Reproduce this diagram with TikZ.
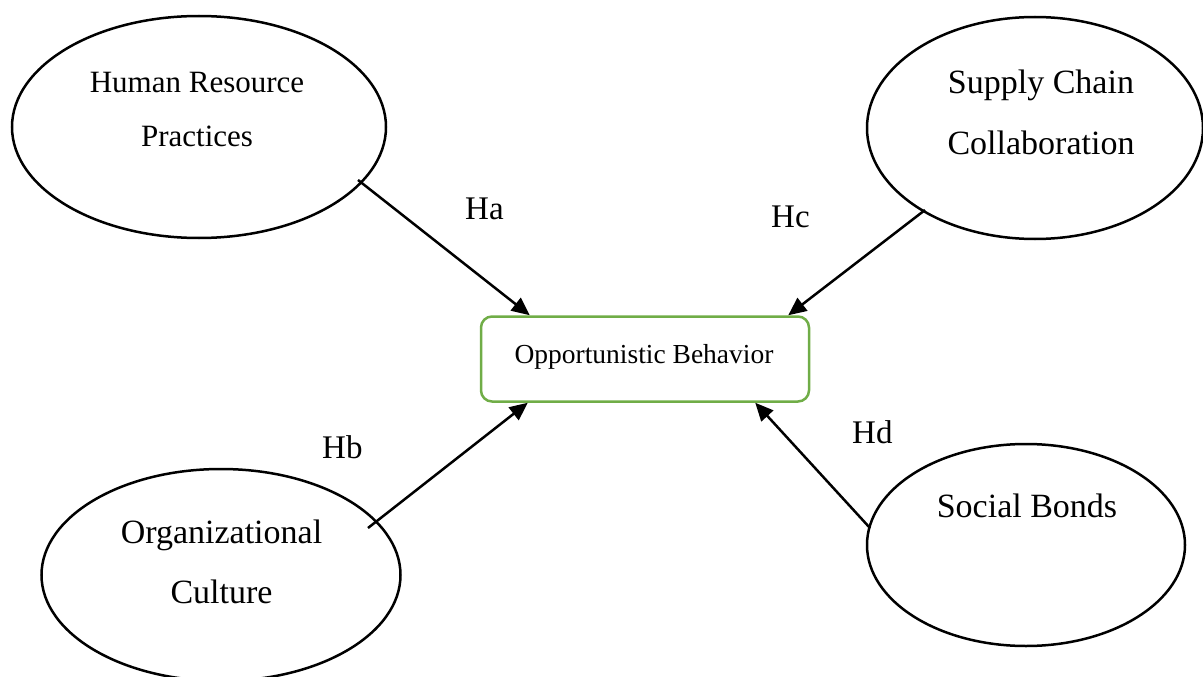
\documentclass[tikz,border=0pt]{standalone}
\usepackage{fontspec}
\setmainfont{Liberation Serif}
\usetikzlibrary{shapes.geometric,arrows.meta,calc}
\definecolor{boxgreen}{HTML}{70AD47}
\tikzset{
  construct/.style={draw=black, line width=2.5pt, ellipse, inner sep=0pt},
  ctext/.style={align=center, inner sep=0pt},
  outcome/.style={draw=boxgreen, line width=2.5pt, rounded corners=11pt,
    minimum width=328pt, minimum height=85pt, inner sep=0pt},
  hyp/.style={inner sep=0pt, anchor=base west, font=\fontsize{33}{36}\selectfont},
  path/.style={line width=2.5pt, -{Triangle[length=18pt,width=16pt]}}
}
\begin{document}
\begin{tikzpicture}[x=1pt,y=-1pt]
  \useasboundingbox (0,0) rectangle (1203,677);

  % latent constructs
  \node[construct, minimum width=374pt, minimum height=222pt] (hr) at (199,127) {};
  \node[construct, minimum width=336pt, minimum height=222pt] (scc) at (1035,128) {};
  \node[construct, minimum width=359pt, minimum height=212pt] (oc) at (221,575) {};
  \node[construct, minimum width=318pt, minimum height=202pt] (sb) at (1026,545) {};

  % construct labels
  \node[ctext, font=\fontsize{31}{54}\selectfont] (hrt) at (197,110) {Human Resource\\Practices};
  \node[ctext, font=\fontsize{34}{61}\selectfont] (scct) at (1041,112) {Supply Chain\\Collaboration};
  \node[ctext, font=\fontsize{34}{60}\selectfont] (oct) at (221.5,562) {Organizational\\Culture};
  \node[ctext, anchor=base, font=\fontsize{34}{40}\selectfont] (sbt) at (1027,517) {Social Bonds};

  % dependent variable
  \node[outcome] (ob) at (645,359) {};
  \node[inner sep=0pt, anchor=base, font=\fontsize{27.5}{32}\selectfont] (obt) at (644,363) {Opportunistic Behavior};

  % hypothesised paths, each leaving its construct near the rim
  \draw[path] ($(hr.center)+(159,53)$) -- ($(ob.north west)+(50,0)$);
  \draw[path] ($(scc.center)+(-110,82)$) -- ($(ob.north east)+(-22,0)$);
  \draw[path] ($(oc.center)+(147,-47)$) -- ($(ob.south west)+(48,0)$);
  \draw[path] ($(sb.center)+(-156,-17)$) -- ($(ob.south east)+(-55,0)$);

  % path labels
  \node[hyp] (ha) at (465,219) {Ha};
  \node[hyp] (hc) at (771,227) {Hc};
  \node[hyp] (hb) at (322,458) {Hb};
  \node[hyp] (hd) at (852,443) {Hd};
\end{tikzpicture}
\end{document}
